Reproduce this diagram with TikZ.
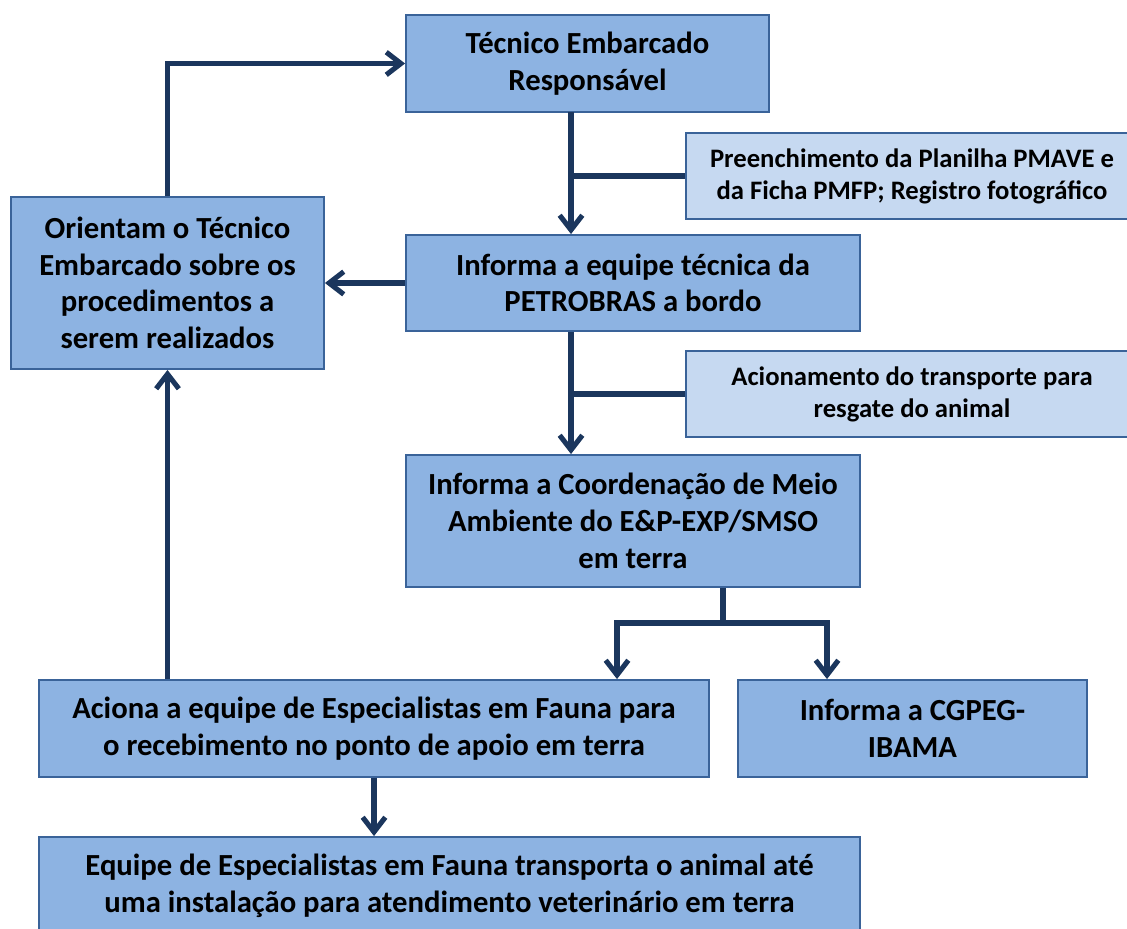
\documentclass[tikz,border=0pt]{standalone}
\usepackage{fontspec}
\setmainfont{Carlito}
\usetikzlibrary{arrows.meta}
\definecolor{boxfill}{HTML}{8DB3E2}
\definecolor{notefill}{HTML}{C6D9F1}
\definecolor{boxline}{HTML}{3A6399}
\definecolor{navy}{HTML}{1B365D}
\begin{document}
\begin{tikzpicture}[x=0.75pt, y=-0.75pt,
    box/.style = {draw=boxline, fill=boxfill, line width=1.4pt, inner sep=0pt, align=center,
                  font=\fontsize{23}{27.5}\selectfont\bfseries},
    note/.style = {box, fill=notefill, font=\fontsize{20}{24}\selectfont\bfseries},
    line/.style = {draw=navy, line width=3.8pt},
    arr/.style = {line, -{Straight Barb[length=11pt, width=17pt, line width=3.8pt]}}]
    \useasboundingbox (0,0) rectangle (1127,928);
    \node[box, minimum width=272.25pt, minimum height=72.75pt] (tecnico) at (587.5,63.5) {Técnico Embarcado\\Responsável};
    \node[note, minimum width=339pt, minimum height=64.5pt] (preench) at (912,176) {Preenchimento da Planilha PMAVE e\\da Ficha PMFP; Registro fotográfico};
    \node[box, minimum width=340.5pt, minimum height=72pt] (petro) at (633,283) {Informa a equipe técnica da\\PETROBRAS a bordo};
    \node[note, minimum width=339pt, minimum height=64.5pt] (acion) at (912,394) {Acionamento do transporte para\\resgate do animal};
    \node[box, minimum width=340.5pt, minimum height=99pt] (coord) at (633,521) {Informa a Coordenação de Meio\\Ambiente do E\&P-EXP/SMSO\\em terra};
    \node[box, minimum width=234.75pt, minimum height=129pt] (orient) at (167.5,283) {Orientam o Técnico\\Embarcado sobre os\\procedimentos a\\serem realizados};
    \node[box, minimum width=502.5pt, minimum height=72.75pt] (aciona) at (374,728.5) {Aciona a equipe de Especialistas em Fauna para\\o recebimento no ponto de apoio em terra};
    \node[box, minimum width=261.75pt, minimum height=72.75pt] (cgpeg) at (912.5,728.5) {Informa a CGPEG-\\IBAMA};
    \node[box, minimum width=615.75pt, minimum height=72.75pt] (equipe) at (449.5,885.5) {Equipe de Especialistas em Fauna transporta o animal até\\uma instalação para atendimento veterinário em terra};
    % junctions
    \coordinate (spine) at (571,112);
    \coordinate (fork) at (723,623);
    \coordinate (forkl) at (617,623);
    \coordinate (forkr) at (827,623);
    \draw[arr] (orient.north) |- (tecnico.west);
    \draw[arr] (spine) -- (spine |- petro.north);
    \draw[line] (preench.west) -- (preench.west -| spine);
    \draw[arr] (petro.west) -- (orient.east);
    \draw[arr] (spine |- petro.south) -- (spine |- coord.north);
    \draw[line] (acion.west) -- (acion.west -| spine);
    \draw[line] (fork |- coord.south) -- (fork);
    \draw[arr] (forkl) -- (forkr) -- (forkr |- cgpeg.north);
    \draw[arr] (forkr) -- (forkl) -- (forkl |- aciona.north);
    \draw[arr] (orient.south |- aciona.north) -- (orient.south);
    \draw[arr] (aciona.south) -- (aciona.south |- equipe.north);
\end{tikzpicture}
\end{document}
